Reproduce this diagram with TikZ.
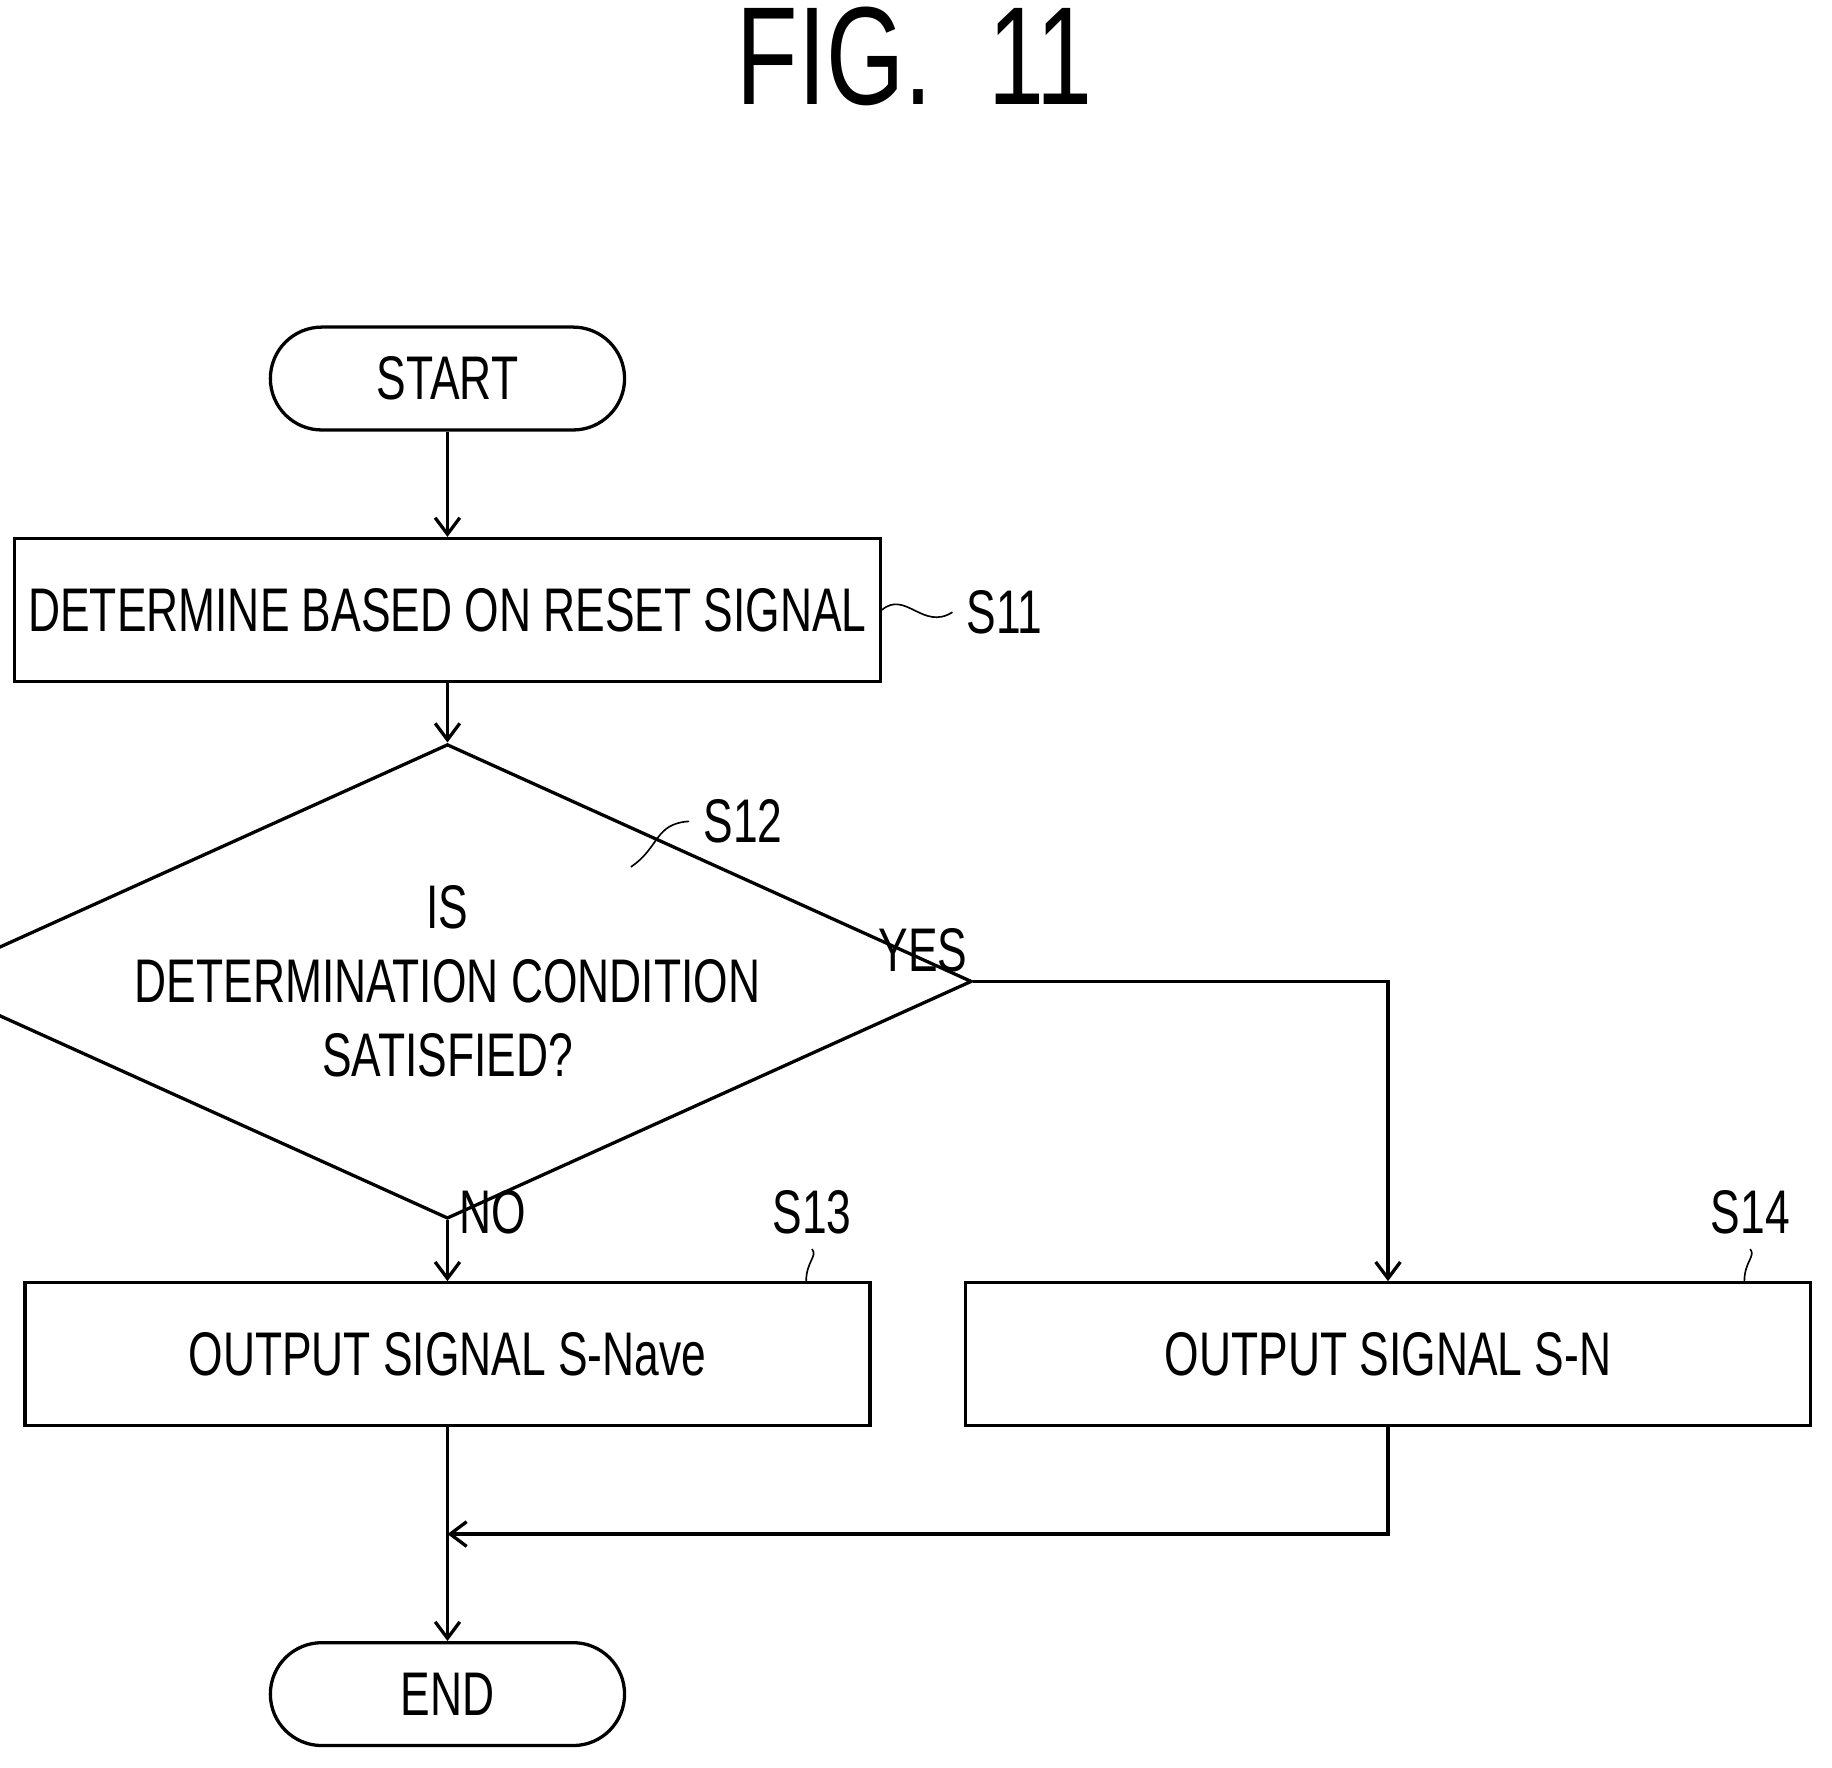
\documentclass[tikz,border=0pt]{standalone}
\usepackage{fontspec}
\setmainfont{Liberation Sans}[FakeStretch=0.72]
\usetikzlibrary{shapes.geometric,arrows.meta}
\begin{document}
\begin{tikzpicture}[x=0.01cm,y=-0.01cm,
	every node/.style={font=\fontsize{15}{18}\selectfont},
	box/.style={draw,thick,minimum width=7.23cm,minimum height=1.22cm},
	term/.style={draw,thick,rounded corners=0.44cm,minimum width=3.03cm,minimum height=0.88cm},
	flow/.style={thick,-{Straight Barb[length=4pt,width=6pt]}}]
	\useasboundingbox (0,0) rectangle (1568,1513);
	\node at (783,48) {\fontsize{34}{40}\selectfont FIG.\ \ 11};

	\node[term] (start) at (383,324) {START};
	\node[box] (s11) at (383,522) {DETERMINE BASED ON RESET SIGNAL};
	\node[draw,thick,diamond,aspect=2.21,minimum width=7.23cm,minimum height=3.26cm,inner sep=0pt,align=center] (s12) at (383,840)
		{IS\\DETERMINATION CONDITION\\SATISFIED?};
	\node[box] (s13) at (383,1159) {OUTPUT SIGNAL S-Nave};
	\node[box] (s14) at (1188,1159) {OUTPUT SIGNAL S-N};
	\node[term] (end) at (383,1450) {END};

	\node (l11) at (860,524) {S11};
	\node (l12) at (636,703) {S12};
	\node (l13) at (695,1038) {S13};
	\node (l14) at (1498,1038) {S14};
	\node (yes) at (790,813) {YES};
	\node (no) at (422,1038) {NO};
	\coordinate (join) at (383,1313);

	\draw[flow] (start) -- (s11);
	\draw[flow] (s11) -- (s12);
	\draw[flow] (s12.south) -- (s13);
	\draw[flow] (s12.east) -| (s14.north);
	\draw[thick] (s13) -- (join);
	\draw[flow] (s14.south) |- (join);
	\draw[flow] (join) -- (end);

	\draw (s11.east) .. controls (775,505) and (790,540) .. (l11.west);
	\draw (540,742) .. controls (565,725) and (560,705) .. (l12.west);
	\draw (s13.north -| 690,0) .. controls (690,1080) and (700,1075) .. (l13.south);
	\draw (s14.north -| 1493,0) .. controls (1493,1080) and (1503,1075) .. (l14.south);
\end{tikzpicture}
\end{document}
